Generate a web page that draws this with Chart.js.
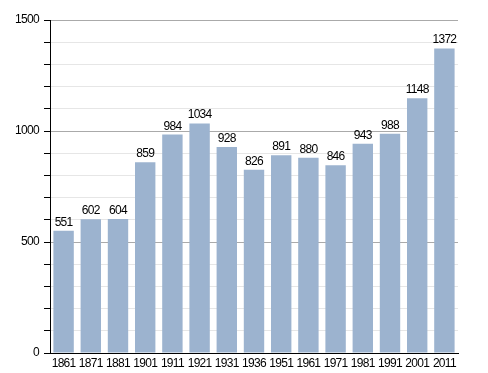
<!DOCTYPE html>
<html lang="en">
<head>
    <meta charset="utf-8">
    <title>Population</title>
    <script src="https://cdn.jsdelivr.net/npm/chart.js@4.4.0/dist/chart.umd.min.js"></script>
    <style>
        html, body { margin: 0; padding: 0; background: #fff; }
        #wrap { width: 488px; height: 373px; }
    </style>
</head>
<body>
<div id="wrap"><canvas id="barChart" width="488" height="373"></canvas></div>
<script>
    let years = ["1861", "1871", "1881", "1901", "1911", "1921", "1931", "1936", "1951", "1961", "1971", "1981", "1991", "2001", "2011"];
    let population = [551, 602, 604, 859, 984, 1034, 928, 826, 891, 880, 846, 943, 988, 1148, 1372];
    let yTicks = [0, 500, 1000, 1500];

    const fontFamily = '"Liberation Sans", Arial, sans-serif';

    // the original labels are tightly set, squeeze the letters a bit
    const tightText = {
        id: 'tightText',
        beforeDraw(chart) {
            chart.ctx.letterSpacing = '-0.7px';
        }
    };

    // labels above each bar
    const valueLabels = {
        id: 'valueLabels',
        afterDatasetsDraw(chart) {
            let ctx = chart.ctx;
            let meta = chart.getDatasetMeta(0);
            ctx.save();
            ctx.font = '12px ' + fontFamily;
            ctx.fillStyle = '#000';
            ctx.textAlign = 'center';
            ctx.textBaseline = 'alphabetic';
            meta.data.forEach((bar, i) => {
                ctx.fillText(population[i], bar.x, bar.y - 5);
            });
            ctx.restore();
        }
    };

    let ctx = document.getElementById('barChart').getContext('2d');
    let myBarChart = new Chart(ctx, {
        type: 'bar',
        data: {
            labels: years,
            datasets: [{
                data: population,
                backgroundColor: '#9cb3cf',
                barPercentage: 0.75,
                categoryPercentage: 1.0
            }]
        },
        plugins: [tightText, valueLabels],
        options: {
            responsive: false,
            animation: false,
            layout: { padding: { top: 20, right: 30, left: 0, bottom: 0 } },
            plugins: { legend: { display: false }, tooltip: { enabled: false } },
            scales: {
                x: {
                    grid: { display: false, drawTicks: false },
                    border: { display: true, color: '#000', width: 1 },
                    ticks: {
                        color: '#000',
                        font: { family: fontFamily, size: 12 },
                        padding: 3,
                        maxRotation: 0,
                        autoSkip: false
                    },
                    afterFit(scale) { scale.height = 20; }
                },
                y: {
                    min: 0,
                    max: 1500,
                    border: { display: true, color: '#000', width: 1 },
                    grid: {
                        color: (c) => yTicks.includes(c.tick.value) ? '#aaaaaa' : '#e6e6e6',
                        tickColor: '#000',
                        tickLength: 6
                    },
                    ticks: {
                        stepSize: 100,
                        color: '#000',
                        padding: 5,
                        font: { family: fontFamily, size: 12 },
                        callback: (v) => yTicks.includes(v) ? v : ''
                    },
                    afterFit(scale) { scale.width = 50; }
                }
            }
        }
    });
</script>
</body>
</html>
